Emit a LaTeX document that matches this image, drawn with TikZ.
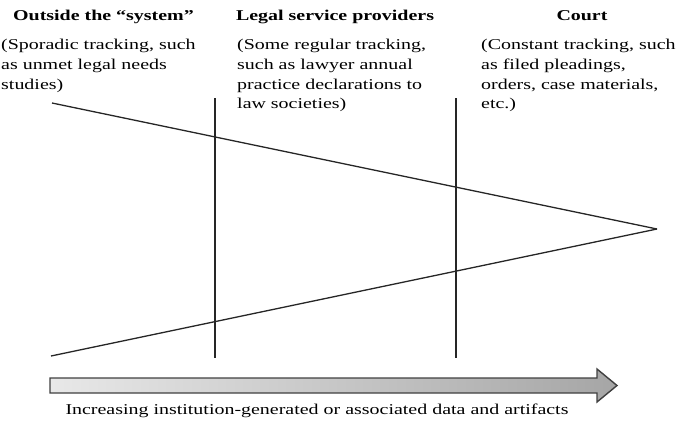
\documentclass[tikz,border=0pt]{standalone}
\usepackage{fontspec}
\setmainfont[FakeStretch=1.33]{Liberation Serif}
\usetikzlibrary{positioning,calc}

\begin{document}
\begin{tikzpicture}[%
    x=1pt, y=-1pt,
    every node/.style={%
      font=\fontsize{15}{19.7}\selectfont,
      inner sep=0pt
    },
    heading/.style={font=\fontsize{15}{19.7}\selectfont\bfseries, anchor=base},
    remark/.style={align=left, anchor=north west},
    bar/.style={draw=black!85, line width=2.4pt},
    ray/.style={draw=black!85, line width=1.3pt}
  ]
  \useasboundingbox (0,0) rectangle (676,420);

  % Column headings
  \node[heading] (h1) at (103.5,21) {Outside the ``system''};
  \node[heading] (h2) at (335,21) {Legal service providers};
  \node[heading] (h3) at (582,21) {Court};

  % Column remarks
  \node[remark] (r1) at (1,39)
    {(Sporadic tracking, such\\as unmet legal needs\\studies)};
  \node[remark] (r2) at (237,39)
    {(Some regular tracking,\\such as lawyer annual\\practice declarations to\\law societies)};
  \node[remark] (r3) at (481,39)
    {(Constant tracking, such\\as filed pleadings,\\orders, case materials,\\etc.)};

  % Converging lines
  \coordinate (apex) at (657,229);
  \coordinate (topl) at (52,103);
  \coordinate (botl) at (51,356);
  \draw[ray] (topl) -- (apex);
  \draw[ray] (botl) -- (apex);

  % Vertical bars
  \coordinate (b1t) at (215,98);
  \coordinate (b1b) at (215,358);
  \coordinate (b2t) at (456,98);
  \coordinate (b2b) at (456,358);
  \draw[bar] (b1t) to (b1b);
  \draw[bar] (b2t) to (b2b);

  % Shaded arrow
  \draw[draw=black!75, line width=1.4pt, left color=gray!18, right color=gray!70]
    (50,378) -- (597,378) -- (597,369) -- (617,385.5)
    -- (597,402) -- (597,393) -- (50,393) -- cycle;
  \node[anchor=base] (cap) at (317,414)
    {Increasing institution-generated or associated data and artifacts};

\end{tikzpicture}
\end{document}
